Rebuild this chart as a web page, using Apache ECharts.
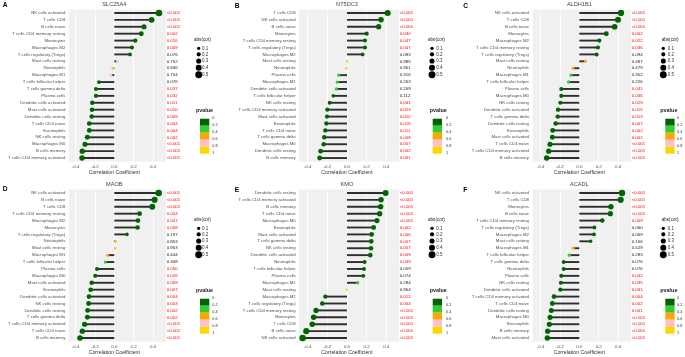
<!DOCTYPE html>
<html>
<head>
<meta charset="utf-8">
<script src="https://cdn.jsdelivr.net/npm/echarts@6/dist/echarts.min.js"></script>
<style>
  html, body { margin: 0; padding: 0; background: #fff; }
  #chart { width: 685px; height: 357px; }
</style>
</head>
<body>
<div id="chart"></div>
<script>
// ---- data (rows listed top to bottom) ----
const genes = ["SLC25A4", "NT5DC3", "ALDH1B1", "MAOB", "KMO", "ACADL"];
const letters = ["A", "B", "C", "D", "E", "F"];

const cellsA = ["NK cells activated", "T cells CD8", "B cells naive", "T cells CD4 memory resting", "Monocytes", "Macrophages M2", "T cells regulatory (Tregs)", "Mast cells resting", "Neutrophils", "Macrophages M1", "T cells follicular helper", "T cells gamma delta", "Plasma cells", "Dendritic cells activated", "Mast cells activated", "Dendritic cells resting", "T cells CD4 naive", "Eosinophils", "NK cells resting", "Macrophages M0", "B cells memory", "T cells CD4 memory activated"];
const corA = [0.462, 0.386, 0.307, 0.279, 0.217, 0.183, 0.162, 0.031, -0.017, -0.034, -0.159, -0.19, -0.19, -0.228, -0.231, -0.234, -0.259, -0.259, -0.279, -0.303, -0.331, -0.334];
const pA = [0.0005, 0.0005, 0.0005, 0.002, 0.016, 0.049, 0.076, 0.752, 0.846, 0.704, 0.076, 0.037, 0.032, 0.011, 0.010, 0.009, 0.004, 0.004, 0.002, 0.0005, 0.0005, 0.0005];

const cellsB = ["T cells CD8", "NK cells activated", "B cells naive", "Monocytes", "T cells CD4 memory resting", "T cells regulatory (Tregs)", "Macrophages M2", "Mast cells resting", "Neutrophils", "Plasma cells", "Macrophages M1", "Dendritic cells activated", "T cells follicular helper", "NK cells resting", "T cells CD4 memory activated", "Mast cells activated", "Eosinophils", "T cells CD4 naive", "T cells gamma delta", "Macrophages M0", "Dendritic cells resting", "B cells memory"];
const corB = [0.414, 0.346, 0.322, 0.2, 0.183, 0.183, 0.159, 0.003, -0.007, -0.085, -0.098, -0.108, -0.139, -0.176, -0.2, -0.203, -0.21, -0.22, -0.231, -0.237, -0.268, -0.278];
const pB = [0.0005, 0.0005, 0.0005, 0.030, 0.047, 0.047, 0.083, 0.985, 0.901, 0.316, 0.263, 0.209, 0.112, 0.041, 0.023, 0.020, 0.016, 0.011, 0.008, 0.007, 0.002, 0.001];

const cellsC = ["NK cells activated", "T cells CD8", "B cells naive", "Monocytes", "Macrophages M2", "T cells CD4 memory resting", "T cells regulatory (Tregs)", "Mast cells resting", "Neutrophils", "Macrophages M1", "T cells follicular helper", "Plasma cells", "Macrophages M0", "NK cells resting", "Dendritic cells activated", "T cells gamma delta", "Dendritic cells resting", "Eosinophils", "Mast cells activated", "T cells CD4 naive", "T cells CD4 memory activated", "B cells memory"];
const corC = [0.43, 0.399, 0.364, 0.278, 0.206, 0.192, 0.179, 0.062, -0.065, -0.086, -0.11, -0.186, -0.186, -0.196, -0.22, -0.223, -0.244, -0.275, -0.278, -0.302, -0.316, -0.337];
const pC = [0.0005, 0.0005, 0.0005, 0.002, 0.022, 0.036, 0.094, 0.487, 0.479, 0.352, 0.226, 0.041, 0.036, 0.029, 0.015, 0.013, 0.007, 0.002, 0.002, 0.0005, 0.0005, 0.0005];

const cellsD = ["NK cells activated", "B cells naive", "T cells CD8", "T cells CD4 memory resting", "Macrophages M2", "Monocytes", "T cells regulatory (Tregs)", "Neutrophils", "Mast cells resting", "Macrophages M1", "T cells follicular helper", "Plasma cells", "Macrophages M0", "Mast cells activated", "Eosinophils", "Dendritic cells activated", "NK cells resting", "Dendritic cells resting", "T cells gamma delta", "T cells CD4 memory activated", "T cells CD4 naive", "B cells memory"];
const corD = [0.459, 0.417, 0.393, 0.262, 0.245, 0.241, 0.131, 0.017, 0.01, -0.069, -0.093, -0.179, -0.197, -0.234, -0.245, -0.262, -0.266, -0.276, -0.279, -0.307, -0.331, -0.355];
const pD = [0.0005, 0.0005, 0.0005, 0.004, 0.007, 0.008, 0.197, 0.853, 0.903, 0.444, 0.308, 0.0496, 0.026, 0.009, 0.007, 0.004, 0.003, 0.002, 0.002, 0.0005, 0.0005, 0.0005];

const cellsE = ["Dendritic cells resting", "T cells CD4 memory activated", "B cells memory", "T cells CD4 naive", "Macrophages M0", "Eosinophils", "Mast cells activated", "T cells gamma delta", "NK cells resting", "Dendritic cells activated", "Neutrophils", "T cells follicular helper", "Plasma cells", "Macrophages M1", "Mast cells resting", "Macrophages M2", "T cells regulatory (Tregs)", "T cells CD4 memory resting", "Monocytes", "T cells CD8", "B cells naive", "NK cells activated"];
const corE = [0.393, 0.346, 0.342, 0.332, 0.305, 0.271, 0.251, 0.247, 0.244, 0.237, 0.18, 0.173, 0.166, 0.108, -0.003, -0.22, -0.251, -0.315, -0.339, -0.353, -0.414, -0.451];
const pE = [0.0005, 0.0005, 0.0005, 0.0005, 0.0005, 0.002, 0.006, 0.007, 0.007, 0.009, 0.049, 0.059, 0.074, 0.284, 0.964, 0.012, 0.004, 0.0005, 0.0005, 0.0005, 0.0005, 0.0005];

const cellsF = ["NK cells activated", "T cells CD8", "Monocytes", "B cells naive", "T cells CD4 memory resting", "T cells regulatory (Tregs)", "Macrophages M2", "Mast cells resting", "Macrophages M1", "T cells follicular helper", "T cells gamma delta", "Neutrophils", "Plasma cells", "NK cells resting", "Dendritic cells activated", "T cells CD4 memory activated", "T cells CD4 naive", "Dendritic cells resting", "Macrophages M0", "Eosinophils", "B cells memory", "Mast cells activated"];
const corF = [0.44, 0.426, 0.326, 0.32, 0.237, 0.155, 0.151, 0.117, -0.062, -0.103, -0.162, -0.162, -0.186, -0.19, -0.196, -0.261, -0.278, -0.289, -0.302, -0.309, -0.326, -0.33];
const pF = [0.0005, 0.0005, 0.0005, 0.0005, 0.009, 0.060, 0.069, 0.166, 0.529, 0.283, 0.076, 0.076, 0.042, 0.035, 0.031, 0.004, 0.002, 0.001, 0.0005, 0.0005, 0.0005, 0.0005];

const sizeBreaks = [0.1, 0.2, 0.3, 0.4, 0.5];
const pBreaks = [0, 0.2, 0.4, 0.6, 0.8, 1];
const pColors = ["#006400", "#32CD32", "#FFA500", "#FFC0CB", "#FFD700"];

// ---- helpers ----
const allCells = [cellsA, cellsB, cellsC, cellsD, cellsE, cellsF];
const allCor = [corA, corB, corC, corD, corE, corF];
const allP = [pA, pB, pC, pD, pE, pF];

const FONT = "Liberation Sans, Arial, sans-serif";
const dotSize = (r) => 2.4 + 9 * Math.abs(r);
const pColor = (p) => {
  for (let k = 0; k < pColors.length; k++) {
    if (p < pBreaks[k + 1]) return pColors[k];
  }
  return pColors[pColors.length - 1];
};
const pText = (p) => (p < 0.001 ? "<0.001" : p.toFixed(3));

// panel placement (columns / rows of the figure)
const colX = [0, 228, 456];
const rowY = [0, 180];
const gridLeft = [68.3, 70.7, 76];
const gridWidth = [98.4, 101, 99.7];
const xMin = [-0.476, -0.491, -0.488];
const xMax = [0.542, 0.536, 0.54];
const gridTop = 9.5, gridHeight = 152;
const sizeLeg = [{ title: 194, dot: 198.7, lab: 202 }, { title: 200, dot: 204, lab: 208.3 }, { title: 205.7, dot: 207.3, lab: 211.7 }];
const pLeg = [{ title: 196, box: 200, lab: 212.3 }, { title: 201.7, box: 204.7, lab: 218 }, { title: 204.3, box: 209.3, lab: 221 }];

const grids = [], xAxes = [], yAxes = [], series = [], titles = [], graphics = [];

for (let i = 0; i < 6; i++) {
  const c = i % 3, r = Math.floor(i / 3);
  const ox = colX[c], oy = rowY[r];
  const cells = allCells[i], cor = allCor[i], p = allP[i];
  const left = ox + gridLeft[c];
  const zeroX = left + (0 - xMin[c]) / (xMax[c] - xMin[c]) * gridWidth[c];

  grids.push({
    left: left, top: oy + gridTop, width: gridWidth[c], height: gridHeight,
    show: true, backgroundColor: "#F0F0F0", borderWidth: 0
  });
  xAxes.push({
    type: "value", gridIndex: i, min: xMin[c], max: xMax[c], splitNumber: 5,
    axisLine: { show: false }, axisTick: { show: false },
    axisLabel: {
      fontSize: 4.4, color: "#4D4D4D", fontFamily: FONT, margin: 3,
      showMinLabel: false, showMaxLabel: false,
      formatter: (v) => v.toFixed(1)
    },
    splitLine: { show: true, lineStyle: { color: "#FFFFFF", width: 0.8 } }
  });
  yAxes.push({
    type: "category", gridIndex: i, data: cells, inverse: true,
    axisLine: { show: false }, axisTick: { show: false },
    axisLabel: { interval: 0, fontSize: 4.3, color: "#4D4D4D", fontFamily: FONT, margin: 3 },
    splitLine: { show: false }
  });
  yAxes.push({
    type: "category", gridIndex: i, data: p.map(pText), inverse: true, position: "right",
    axisLine: { show: false }, axisTick: { show: false },
    axisLabel: {
      interval: 0, margin: 0, align: "left",
      formatter: (v, idx) => (p[idx] < 0.05 ? "{sig|" + v + "}" : "{ns|" + v + "}"),
      rich: {
        sig: { fontSize: 4.4, fontFamily: FONT, color: "#FF0000" },
        ns: { fontSize: 4.4, fontFamily: FONT, color: "#222222" }
      }
    },
    splitLine: { show: false }
  });

  series.push({
    type: "bar", xAxisIndex: i, yAxisIndex: 2 * i, barWidth: 1.9, silent: true,
    itemStyle: { color: "#2E2E2E" },
    data: cor
  });
  series.push({
    type: "scatter", xAxisIndex: i, yAxisIndex: 2 * i, silent: true,
    symbolSize: (val) => dotSize(val[0]),
    data: cor.map((v, k) => ({ value: [v, k], itemStyle: { color: pColor(p[k]), opacity: 1 } }))
  });

  // gene title and panel letter
  titles.push({
    text: genes[i], left: zeroX, top: oy + 1.2, textAlign: "center", padding: 0,
    textStyle: { fontSize: 5.6, fontWeight: "normal", color: "#444444", fontFamily: FONT }
  });
  titles.push({
    text: letters[i], left: ox + [2.7, 6.7, 7.3][c], top: oy + [1.5, 2.5, 3][c] + (r ? 4 : 0), padding: 0,
    textStyle: { fontSize: 6.6, fontWeight: "bold", color: "#000000", fontFamily: FONT }
  });

  // x axis title
  graphics.push({
    type: "text", x: zeroX, y: oy + 173, silent: true,
    style: { text: "Correlation Coefficient", fontSize: 5.2, fill: "#333333", fontFamily: FONT, align: "center", verticalAlign: "middle" }
  });

  // abs(cor) size legend
  const sl = sizeLeg[c];
  graphics.push({
    type: "text", x: ox + sl.title, y: oy + 40, silent: true,
    style: { text: "abs(cor)", fontSize: 4.6, fill: "#222222", fontFamily: FONT, verticalAlign: "middle" }
  });
  const legY = [48.3, 54.3, 61, 67.7, 74.7];
  sizeBreaks.forEach((b, k) => {
    graphics.push({
      type: "circle", silent: true,
      shape: { cx: ox + sl.dot, cy: oy + legY[k], r: dotSize(b) / 2 },
      style: { fill: "#000000" }
    });
    graphics.push({
      type: "text", x: ox + sl.lab, y: oy + legY[k], silent: true,
      style: { text: String(b), fontSize: 4.5, fill: "#333333", fontFamily: FONT, verticalAlign: "middle" }
    });
  });

  // pvalue colour legend
  const pl = pLeg[c];
  graphics.push({
    type: "text", x: ox + pl.title, y: oy + 110.3, silent: true,
    style: { text: "pvalue", fontSize: 5.4, fontWeight: "bold", fill: "#222222", fontFamily: FONT, verticalAlign: "middle" }
  });
  const boxTop = 118.7, boxH = 7, boxW = 9.3;
  pColors.forEach((col, k) => {
    graphics.push({
      type: "rect", silent: true,
      shape: { x: ox + pl.box, y: oy + boxTop + k * boxH, width: boxW, height: boxH },
      style: { fill: col }
    });
  });
  pBreaks.forEach((b, k) => {
    graphics.push({
      type: "text", x: ox + pl.lab, y: oy + boxTop - 0.3 + k * boxH, silent: true,
      style: { text: String(b), fontSize: 3.8, fill: "#333333", fontFamily: FONT, verticalAlign: "middle" }
    });
  });
}

const chart = echarts.init(document.getElementById("chart"), null, { renderer: "canvas" });
chart.setOption({
  animation: false,
  backgroundColor: "#FFFFFF",
  title: titles,
  grid: grids,
  xAxis: xAxes,
  yAxis: yAxes,
  series: series,
  graphic: graphics
});
</script>
</body>
</html>
